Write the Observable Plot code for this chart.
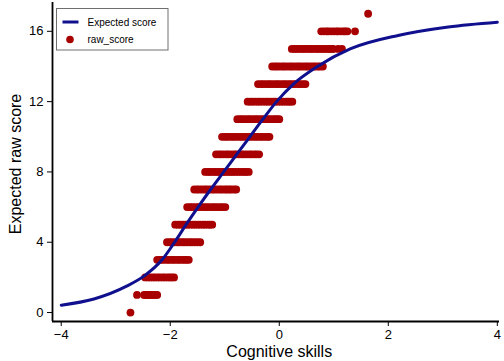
<!DOCTYPE html>
<html>
<head>
<meta charset="utf-8">
<script src="https://cdn.jsdelivr.net/npm/d3@7"></script>
<script src="https://cdn.jsdelivr.net/npm/@observablehq/plot@0.6"></script>
<style>
  html, body { margin: 0; padding: 0; background: #fff; }
  #chart svg { display: block; }
</style>
</head>
<body>
<div id="chart"></div>
<script>
// Axis ticks
const xTicks = [-4, -2, 0, 2, 4];
const yTicks = [0, 4, 8, 12, 16];

// Series names shown in the legend
const legendLabels = ["Expected score", "raw_score"];

// Expected score (test characteristic curve) sampled along cognitive skills
const curveSkill    = [-4.0, -3.4, -2.8, -2.47, -2.15, -1.92, -1.71, -1.49, -1.26, -1.02, -0.78, -0.54, -0.3, -0.05, 0.26, 0.7, 1.3, 2.2, 3.1, 4.0];
const curveExpected = [0.42, 0.77, 1.5, 2.1, 3.0, 4.0, 5.0, 6.0, 7.0, 8.0, 9.0, 10.0, 11.0, 12.0, 13.0, 14.0, 15.0, 15.78, 16.25, 16.52];

// Observed raw scores and the skill estimates of respondents at each score
const rawScores = [0, 1, 2, 3, 4, 5, 6, 7, 8, 9, 10, 11, 12, 13, 14, 15, 16, 17];
const rawSkills = [
  [-2.73],
  [-2.61, -2.48, -2.45, -2.42, -2.39, -2.36, -2.33, -2.30, -2.27, -2.24],
  [-2.46, -2.41, -2.37, -2.32, -2.28, -2.23, -2.19, -2.14, -2.10, -2.05, -2.01, -1.97, -1.93],
  [-2.24, -2.19, -2.15, -2.10, -2.05, -2.01, -1.96, -1.92, -1.87, -1.83, -1.78, -1.74, -1.70, -1.66],
  [-2.06, -2.01, -1.97, -1.92, -1.87, -1.83, -1.78, -1.74, -1.69, -1.64, -1.60, -1.55, -1.50, -1.45],
  [-1.91, -1.86, -1.82, -1.77, -1.72, -1.68, -1.63, -1.58, -1.54, -1.49, -1.45, -1.40, -1.36, -1.31, -1.27, -1.23],
  [-1.69, -1.64, -1.60, -1.55, -1.50, -1.46, -1.41, -1.36, -1.32, -1.27, -1.22, -1.18, -1.13, -1.08, -1.04, -0.99],
  [-1.56, -1.51, -1.47, -1.42, -1.37, -1.33, -1.28, -1.23, -1.19, -1.14, -1.09, -1.05, -1.00, -0.96, -0.92, -0.88, -0.83, -0.79],
  [-1.36, -1.31, -1.27, -1.22, -1.17, -1.13, -1.08, -1.03, -0.99, -0.94, -0.89, -0.85, -0.80, -0.75, -0.70, -0.65, -0.61, -0.56],
  [-1.16, -1.11, -1.07, -1.02, -0.97, -0.93, -0.88, -0.83, -0.79, -0.74, -0.69, -0.65, -0.60, -0.55, -0.51, -0.46, -0.42, -0.37],
  [-1.05, -1.00, -0.96, -0.91, -0.86, -0.82, -0.77, -0.72, -0.68, -0.63, -0.58, -0.54, -0.49, -0.44, -0.40, -0.35, -0.31, -0.26, -0.22, -0.18],
  [-0.77, -0.72, -0.68, -0.63, -0.58, -0.54, -0.49, -0.44, -0.40, -0.35, -0.30, -0.26, -0.21, -0.17, -0.12, -0.08, -0.04, 0.00],
  [-0.58, -0.53, -0.49, -0.44, -0.39, -0.35, -0.30, -0.25, -0.21, -0.16, -0.11, -0.07, -0.02, 0.03, 0.07, 0.12, 0.16, 0.20, 0.24],
  [-0.39, -0.34, -0.30, -0.25, -0.20, -0.16, -0.11, -0.06, -0.02, 0.03, 0.08, 0.12, 0.17, 0.21, 0.26, 0.30, 0.35, 0.39, 0.44, 0.48],
  [-0.13, -0.08, -0.04, 0.01, 0.06, 0.10, 0.15, 0.20, 0.24, 0.29, 0.34, 0.38, 0.43, 0.48, 0.52, 0.57, 0.62, 0.66, 0.71, 0.75, 0.80],
  [0.23, 0.28, 0.32, 0.37, 0.42, 0.46, 0.51, 0.56, 0.60, 0.65, 0.70, 0.74, 0.79, 0.83, 0.88, 0.92, 0.96, 0.99, 1.08, 1.15],
  [0.77, 0.82, 0.87, 0.90, 0.95, 1.00, 1.05, 1.08, 1.13, 1.18, 1.21, 1.25, 1.39],
  [1.63]
];

const navy = "#10108e";
const red = "#a80000";
const font = "'Liberation Sans', Arial, Helvetica, sans-serif";

const points = rawScores.flatMap((s, i) => rawSkills[i].map(x => ({skill: x, score: s})));
const curve = curveSkill.map((x, i) => ({skill: x, expected: curveExpected[i]}));

const xDomain = [-4.16, 4.04];
const yDomain = [-0.51, 17.64];

const plot = Plot.plot({
  width: 504,
  height: 361,
  marginLeft: 52,
  marginRight: 5,
  marginTop: 2,
  marginBottom: 40,
  style: {fontFamily: font, background: "#fff", color: "#000"},
  x: {domain: xDomain, label: null},
  y: {domain: yDomain, label: null},
  marks: [
    Plot.axisX({ticks: xTicks, tickSize: 5, tickPadding: 3, fontSize: 13, label: null, stroke: "#000"}),
    Plot.axisY({ticks: yTicks, tickSize: 5, tickPadding: 4, fontSize: 13, label: null, stroke: "#000"}),
    Plot.dot(points, {x: "skill", y: "score", r: 3.9, fill: red, stroke: "none"}),
    Plot.line(curve, {x: "skill", y: "expected", stroke: navy, strokeWidth: 3, curve: "monotone-x"}),
    Plot.ruleX([xDomain[0]], {stroke: "#000", strokeWidth: 1.8}),
    Plot.ruleY([yDomain[0]], {stroke: "#000", strokeWidth: 1.8}),
    Plot.text(["Cognitive skills"], {x: 0, frameAnchor: "bottom", dy: 30, lineAnchor: "middle", fontSize: 16, fill: "#000"}),
    Plot.text(["Expected raw score"], {frameAnchor: "left", dx: -37, dy: 2, rotate: -90, textAnchor: "middle", lineAnchor: "middle", fontSize: 16, fill: "#000"})
  ]
});

// Legend box in the upper-left of the plot region
const svg = d3.select(plot);
const lg = svg.append("g")
  .attr("font-family", font)
  .attr("font-size", 10)
  .attr("text-anchor", "start")
  .attr("fill", "#000");
lg.append("rect")
  .attr("x", 56.5).attr("y", 8.5).attr("width", 111.5).attr("height", 41.5)
  .attr("fill", "#fff").attr("stroke", "#6e6e6e").attr("stroke-width", 1);
lg.append("line")
  .attr("x1", 62.5).attr("x2", 78.5).attr("y1", 22).attr("y2", 22)
  .attr("stroke", navy).attr("stroke-width", 3);
lg.append("text").attr("x", 87.5).attr("y", 22).attr("dy", "0.35em").text(legendLabels[0]);
lg.append("circle").attr("cx", 70).attr("cy", 39.5).attr("r", 3.8).attr("fill", red);
lg.append("text").attr("x", 87.5).attr("y", 39.5).attr("dy", "0.35em").text(legendLabels[1]);

document.getElementById("chart").appendChild(plot);
</script>
</body>
</html>
